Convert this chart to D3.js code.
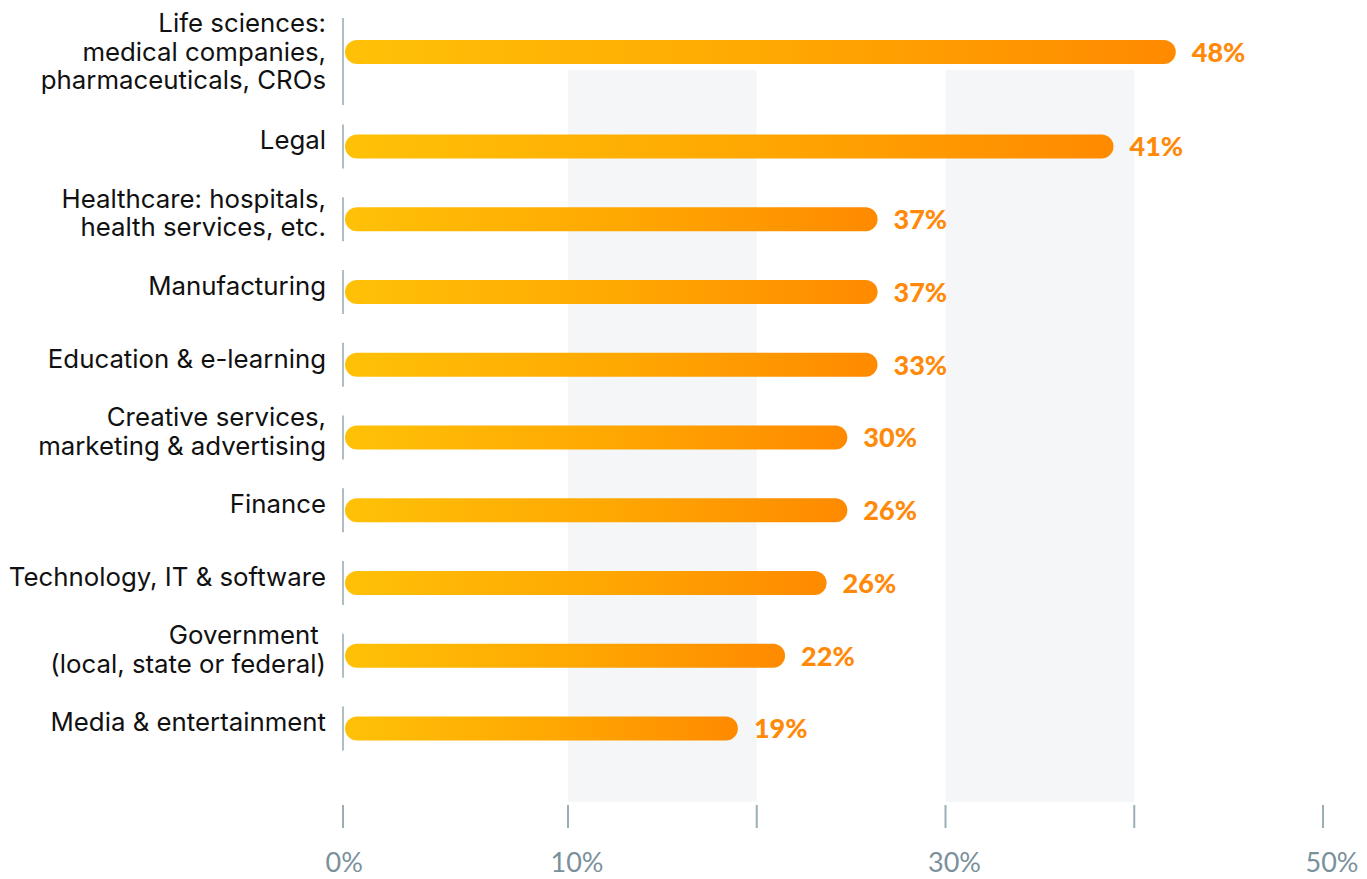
<!DOCTYPE html>
<html><head><meta charset="utf-8">
<script src="https://cdn.jsdelivr.net/npm/d3@7"></script>
<style>body{margin:0;background:#fff} svg{display:block}</style>
</head><body>
<svg id="chart" width="1367" height="879"></svg>
<script>
// ---- data ----
const categories = [
  "Life sciences:\nmedical companies,\npharmaceuticals, CROs",
  "Legal",
  "Healthcare: hospitals,\nhealth services, etc.",
  "Manufacturing",
  "Education & e-learning",
  "Creative services,\nmarketing & advertising",
  "Finance",
  "Technology, IT & software",
  "Government \n(local, state or federal)",
  "Media & entertainment"
];
const values = [48, 41, 37, 37, 33, 30, 26, 26, 22, 19];            // printed labels
const barLengths = [42.2, 38.9, 26.4, 26.4, 26.4, 24.8, 24.8, 23.7, 21.5, 19.0]; // drawn extent on the axis
const tickValues = [0, 10, 20, 30, 40, 50];
const tickLabels = ["0%", "10%", "", "30%", "", "50%"];
const shadedBands = [[10, 20], [30, 40]];

// ---- layout ----
const svg = d3.select("#chart");
const x = d3.scaleLinear().domain([0, 10, 50]).range([343, 568, 1323]);

const lines = categories.map(c => c.split("\n"));
const weights = lines.map(l => l.length >= 3 ? 1.6 : 1);
const starts = [0];
weights.forEach((w, i) => starts.push(starts[i] + w));
const total = d3.sum(weights);
const rowPx = 72.75;
const y = d3.scaleLinear().domain([0, total]).range([-6.3, -6.3 + total * rowPx]);
const center = i => y(starts[i] + weights[i] / 2);

const bandTop = 70, bandBottom = 802, tickTop = 805, tickBottom = 828;
const barH = 24;

const defs = svg.append("defs");
const grad = defs.append("linearGradient").attr("id", "barGrad")
  .attr("x1", 0).attr("x2", 1).attr("y1", 0).attr("y2", 0);
grad.append("stop").attr("offset", 0).attr("stop-color", "#ffc107");
grad.append("stop").attr("offset", 0.55).attr("stop-color", "#ffa602");
grad.append("stop").attr("offset", 1).attr("stop-color", "#ff8a00");

// shaded bands
svg.append("g").selectAll("rect").data(shadedBands).join("rect")
  .attr("x", d => x(d[0])).attr("width", d => x(d[1]) - x(d[0]))
  .attr("y", bandTop).attr("height", bandBottom - bandTop)
  .attr("fill", "#f4f6f8");

// ticks
svg.append("g").selectAll("line").data(tickValues).join("line")
  .attr("x1", d => x(d)).attr("x2", d => x(d))
  .attr("y1", tickTop).attr("y2", tickBottom)
  .attr("stroke", "#9badb7").attr("stroke-width", 2);

svg.append("g").selectAll("text").data(tickValues).join("text")
  .attr("x", d => x(d) - 17.5).attr("y", 872)
  .attr("font-family", "Lato, 'Open Sans', sans-serif").attr("font-weight", 400)
  .attr("font-size", 27).attr("fill", "#7a909b")
  .text((d, i) => tickLabels[i]);

// rows
const rows = svg.append("g").selectAll("g").data(categories).join("g");

// axis segments
rows.append("line")
  .attr("x1", x(0)).attr("x2", x(0))
  .attr("y1", (d, i) => center(i) - (lines[i].length >= 3 ? 34 : 22))
  .attr("y2", (d, i) => center(i) + (lines[i].length >= 3 ? 53 : 22))
  .attr("stroke", "#9badb7").attr("stroke-width", 1.6);

// category labels
const lh = 28.5;
rows.append("text")
  .attr("text-anchor", "end")
  .attr("font-family", "Inter, 'Noto Sans', sans-serif")
  .attr("font-size", 25.8).attr("fill", "#111")
  .style("white-space", "pre")
  .each(function(d, i) {
    const ls = lines[i];
    const n = ls.length;
    const base = center(i) + (n >= 3 ? 9 : 3) - (n - 1) * lh / 2;
    d3.select(this).selectAll("tspan").data(ls).join("tspan")
      .attr("x", 326).attr("y", (t, k) => base + k * lh)
      .text(t => t);
  });

// bars
rows.append("rect")
  .attr("x", x(0) + 2)
  .attr("y", (d, i) => center(i) - barH / 2)
  .attr("width", (d, i) => x(barLengths[i]) - x(0) - 2)
  .attr("height", barH)
  .attr("rx", barH / 2).attr("ry", barH / 2)
  .attr("fill", "url(#barGrad)");

// value labels
rows.append("text")
  .attr("x", (d, i) => x(barLengths[i]) + 16)
  .attr("y", (d, i) => center(i) + 10)
  .attr("font-family", "Lato, sans-serif").attr("font-weight", 900)
  .attr("font-size", 27).attr("fill", "#ff8a0a")
  .text((d, i) => values[i] + "%");
</script>
</body></html>
